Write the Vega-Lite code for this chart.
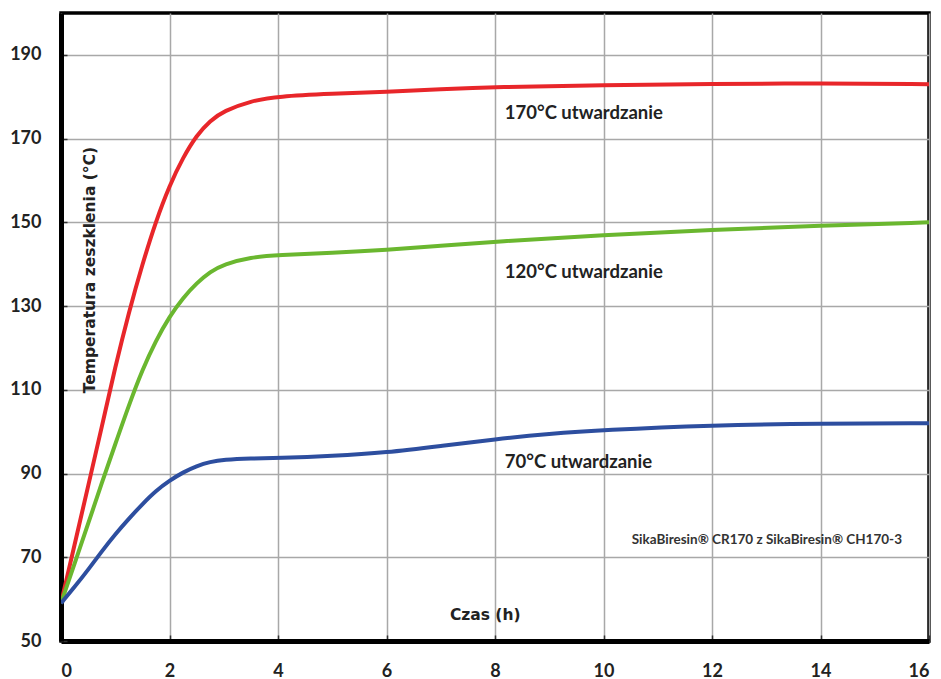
{
  "$schema": "https://vega.github.io/schema/vega-lite/v6.json",
  "width": 868,
  "height": 628,
  "autosize": "none",
  "padding": {"left": 61, "top": 13, "right": 12, "bottom": 38},
  "background": "white",
  "config": {
    "view": {"stroke": "black", "strokeWidth": 3.5},
    "font": "Lato"
  },
  "datasets": {
    "curves": [
      {"series": "170", "t": 0, "tg": 59},
      {"series": "170", "t": 0.25, "tg": 73},
      {"series": "170", "t": 0.5, "tg": 87},
      {"series": "170", "t": 0.75, "tg": 101},
      {"series": "170", "t": 1.0, "tg": 115.5},
      {"series": "170", "t": 1.25, "tg": 128.5},
      {"series": "170", "t": 1.5, "tg": 140},
      {"series": "170", "t": 1.75, "tg": 150.3},
      {"series": "170", "t": 2.0, "tg": 158.8},
      {"series": "170", "t": 2.25, "tg": 165.5},
      {"series": "170", "t": 2.5, "tg": 170.8},
      {"series": "170", "t": 2.75, "tg": 174.3},
      {"series": "170", "t": 3.0, "tg": 176.6},
      {"series": "170", "t": 3.5, "tg": 179},
      {"series": "170", "t": 4.0, "tg": 180.1},
      {"series": "170", "t": 5, "tg": 180.7},
      {"series": "170", "t": 6, "tg": 181.2},
      {"series": "170", "t": 7, "tg": 181.8},
      {"series": "170", "t": 8, "tg": 182.3},
      {"series": "170", "t": 10, "tg": 182.8},
      {"series": "170", "t": 12, "tg": 183.1},
      {"series": "170", "t": 14, "tg": 183.2},
      {"series": "170", "t": 16, "tg": 183},
      {"series": "120", "t": 0, "tg": 59},
      {"series": "120", "t": 0.25, "tg": 68.5},
      {"series": "120", "t": 0.5, "tg": 78},
      {"series": "120", "t": 0.75, "tg": 87.7},
      {"series": "120", "t": 1.0, "tg": 97},
      {"series": "120", "t": 1.25, "tg": 106.3},
      {"series": "120", "t": 1.5, "tg": 114.8},
      {"series": "120", "t": 1.75, "tg": 121.8},
      {"series": "120", "t": 2.0, "tg": 127.5},
      {"series": "120", "t": 2.25, "tg": 132},
      {"series": "120", "t": 2.5, "tg": 135.5},
      {"series": "120", "t": 2.75, "tg": 138.2},
      {"series": "120", "t": 3.0, "tg": 140},
      {"series": "120", "t": 3.5, "tg": 141.7},
      {"series": "120", "t": 4, "tg": 142.2},
      {"series": "120", "t": 5, "tg": 142.7},
      {"series": "120", "t": 6, "tg": 143.4},
      {"series": "120", "t": 7, "tg": 144.4},
      {"series": "120", "t": 8, "tg": 145.4},
      {"series": "120", "t": 10, "tg": 147},
      {"series": "120", "t": 12, "tg": 148.2},
      {"series": "120", "t": 14, "tg": 149.2},
      {"series": "120", "t": 16, "tg": 150},
      {"series": "70", "t": 0, "tg": 59},
      {"series": "70", "t": 0.25, "tg": 62.9},
      {"series": "70", "t": 0.5, "tg": 67},
      {"series": "70", "t": 0.75, "tg": 71.4},
      {"series": "70", "t": 1.0, "tg": 75.5},
      {"series": "70", "t": 1.25, "tg": 79.2},
      {"series": "70", "t": 1.5, "tg": 82.7},
      {"series": "70", "t": 1.75, "tg": 85.9},
      {"series": "70", "t": 2, "tg": 88.3},
      {"series": "70", "t": 2.25, "tg": 90.3},
      {"series": "70", "t": 2.5, "tg": 91.8},
      {"series": "70", "t": 2.75, "tg": 92.8},
      {"series": "70", "t": 3, "tg": 93.3},
      {"series": "70", "t": 3.5, "tg": 93.6},
      {"series": "70", "t": 4, "tg": 93.7},
      {"series": "70", "t": 5, "tg": 94.2},
      {"series": "70", "t": 6, "tg": 95},
      {"series": "70", "t": 7, "tg": 96.6},
      {"series": "70", "t": 8, "tg": 98.2},
      {"series": "70", "t": 9, "tg": 99.5},
      {"series": "70", "t": 10, "tg": 100.4},
      {"series": "70", "t": 12, "tg": 101.5},
      {"series": "70", "t": 14, "tg": 102},
      {"series": "70", "t": 16, "tg": 102}
    ]
  },
  "layer": [
    {
      "data": {"name": "curves"},
      "mark": {"type": "line", "strokeWidth": 4, "interpolate": "basis", "clip": true},
      "encoding": {
        "x": {
          "field": "t", "type": "quantitative",
          "scale": {"domain": [0, 16], "nice": false},
          "axis": {
            "title": null, "values": [0, 2, 4, 6, 8, 10, 12, 14, 16],
            "grid": true, "gridColor": "#a8a8a8", "gridWidth": 1.5,
            "domain": true, "domainColor": "black", "domainWidth": 5,
            "ticks": true, "tickSize": -6, "tickColor": "#333", "tickWidth": 1.5,
            "labelFont": "Lato", "labelFontWeight": "bold",
            "labelFontSize": 18, "labelColor": "#222", "labelPadding": 27
          }
        },
        "y": {
          "field": "tg", "type": "quantitative",
          "scale": {"domain": [50, 200], "nice": false, "zero": false},
          "axis": {
            "title": null, "values": [50, 70, 90, 110, 130, 150, 170, 190],
            "grid": true, "gridColor": "#a8a8a8", "gridWidth": 1.5,
            "domain": true, "domainColor": "black", "domainWidth": 5,
            "ticks": true, "tickSize": -6, "tickColor": "#333", "tickWidth": 1.5,
            "labelFont": "Lato", "labelFontWeight": "bold",
            "labelFontSize": 18, "labelColor": "#222", "labelPadding": 26
          }
        },
        "color": {
          "field": "series", "type": "nominal",
          "scale": {"domain": ["170", "120", "70"], "range": ["#E8262A", "#6AB72F", "#2D4E9F"]},
          "legend": null
        }
      }
    },
    {
      "data": {"values": [{}]},
      "mark": {"type": "text", "align": "left", "baseline": "middle", "font": "Lato", "fontWeight": "bold", "fontSize": 18.5, "color": "#222"},
      "encoding": {"x": {"datum": 8.18}, "y": {"datum": 176.2}, "text": {"value": "170°C utwardzanie"}}
    },
    {
      "data": {"values": [{}]},
      "mark": {"type": "text", "align": "left", "baseline": "middle", "font": "Lato", "fontWeight": "bold", "fontSize": 18.5, "color": "#222"},
      "encoding": {"x": {"datum": 8.18}, "y": {"datum": 138.2}, "text": {"value": "120°C utwardzanie"}}
    },
    {
      "data": {"values": [{}]},
      "mark": {"type": "text", "align": "left", "baseline": "middle", "font": "Lato", "fontWeight": "bold", "fontSize": 18.5, "color": "#222"},
      "encoding": {"x": {"datum": 8.18}, "y": {"datum": 92.8}, "text": {"value": "70°C utwardzanie"}}
    },
    {
      "data": {"values": [{}]},
      "mark": {"type": "text", "align": "left", "baseline": "middle", "font": "Lato", "fontWeight": "bold", "fontSize": 13.5, "color": "#333"},
      "encoding": {"x": {"datum": 10.52}, "y": {"datum": 74.2}, "text": {"value": "SikaBiresin® CR170 z SikaBiresin® CH170-3"}}
    },
    {
      "data": {"values": [{}]},
      "mark": {"type": "text", "align": "center", "baseline": "middle", "font": "DejaVu Sans", "fontWeight": "bold", "fontSize": 15.5, "color": "#222"},
      "encoding": {"x": {"datum": 7.82}, "y": {"datum": 56.2}, "text": {"value": "Czas (h)"}}
    },
    {
      "data": {"values": [{}]},
      "mark": {"type": "text", "align": "center", "baseline": "middle", "angle": 270, "font": "DejaVu Sans", "fontWeight": "bold", "fontSize": 15.5, "color": "#222"},
      "encoding": {"x": {"datum": 0.53}, "y": {"datum": 138.6}, "text": {"value": "Temperatura zeszklenia (°C)"}}
    }
  ]
}
